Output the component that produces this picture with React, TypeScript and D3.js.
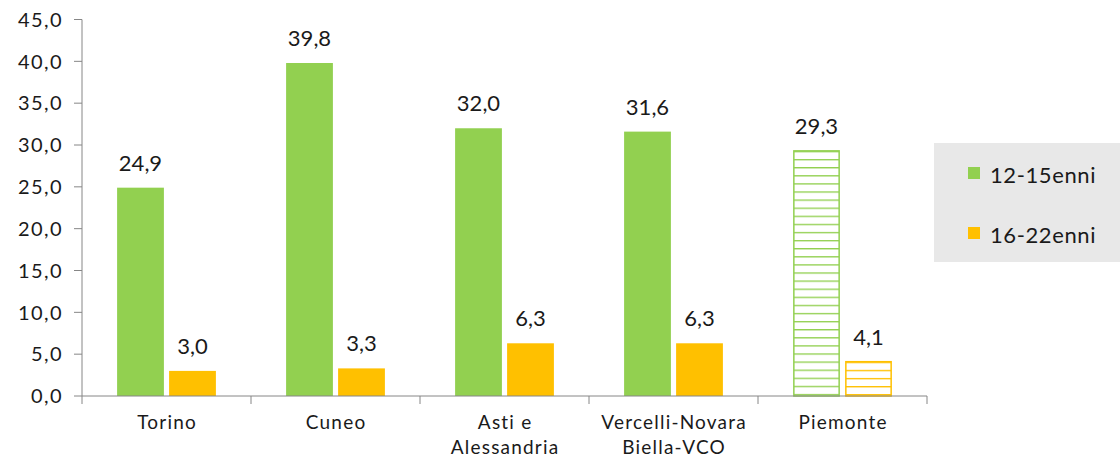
import * as d3 from 'd3';

const categories = ['Torino', 'Cuneo', 'Asti e\nAlessandria', 'Vercelli-Novara\nBiella-VCO', 'Piemonte'];
const series = ['12-15enni', '16-22enni'];
const values12_15 = [24.9, 39.8, 32.0, 31.6, 29.3];
const values16_22 = [3.0, 3.3, 6.3, 6.3, 4.1];
const yTicks = [0, 5, 10, 15, 20, 25, 30, 35, 40, 45];
const colors = ['#92D050', '#FFC000'];
const hatchedCategory = 'Piemonte';

const W = 1120;
const H = 457;
const FONT = 'Lato, "Open Sans", sans-serif';
const TEXT = '#1a1a1a';

const fmt = (v: number) => v.toFixed(1).replace('.', ',');

const App = () => {
  const x0 = d3.scaleBand<string>().domain(categories).range([82, 927]).padding(0);
  const x1 = d3
    .scaleBand<string>()
    .domain(series)
    .range([0, x0.bandwidth()])
    .paddingInner(0.1)
    .paddingOuter(0.675);
  const y = d3.scaleLinear().domain([0, 45]).range([396, 19.5]);

  const rows = categories.map((c, i) => ({ cat: c, vals: [values12_15[i], values16_22[i]] }));

  return (
    <div style={{ position: 'absolute', left: 0, top: 0 }}>
      <svg width={W} height={H} style={{ display: 'block', fontFamily: FONT }}>
        <rect width={W} height={H} fill="#fff" />
        <defs>
          {rows
            .filter(r => r.cat === hatchedCategory)
            .flatMap(r =>
              r.vals.map((v, si) => (
                <pattern
                  key={`p${si}`}
                  id={`hatch${si}`}
                  patternUnits="userSpaceOnUse"
                  x={0}
                  y={y(v)}
                  width={10}
                  height={8.1}
                >
                  <rect width={10} height={8.1} fill="#fff" />
                  <line x1={0} x2={10} y1={0.5} y2={0.5} stroke={colors[si]} strokeWidth={1.7} />
                </pattern>
              ))
            )}
        </defs>

        {/* y axis */}
        <line x1={82} x2={82} y1={y(45)} y2={y(0)} stroke="#868686" strokeWidth={1} />
        {yTicks.map(t => (
          <g key={t}>
            <line x1={74} x2={82} y1={y(t)} y2={y(t)} stroke="#868686" />
            <text
              x={63}
              y={y(t)}
              dy="0.36em"
              textAnchor="end"
              fontSize={20}
              letterSpacing={1.4}
              fill={TEXT}
            >
              {fmt(t)}
            </text>
          </g>
        ))}

        {/* bars */}
        {rows.map(r => (
          <g key={r.cat} transform={`translate(${x0(r.cat)},0)`}>
            {r.vals.map((v, si) => {
              const bx = x1(series[si])!;
              const bw = x1.bandwidth();
              const hatched = r.cat === hatchedCategory;
              return (
                <g key={si}>
                  {hatched ? (
                    <rect
                      x={bx + 0.75}
                      y={y(v)}
                      width={bw - 1.5}
                      height={y(0) - y(v)}
                      fill={`url(#hatch${si})`}
                      stroke={colors[si]}
                      strokeWidth={1.5}
                    />
                  ) : (
                    <rect x={bx} y={y(v)} width={bw} height={y(0) - y(v)} fill={colors[si]} />
                  )}
                  <text
                    x={bx + bw / 2}
                    y={y(v) - 17}
                    textAnchor="middle"
                    fontSize={22}
                    fill={TEXT}
                  >
                    {fmt(v)}
                  </text>
                </g>
              );
            })}
          </g>
        ))}

        {/* x axis */}
        <line x1={82} x2={927} y1={y(0)} y2={y(0)} stroke="#868686" />
        {categories.map(c => (
          <line key={c} x1={x0(c)} x2={x0(c)} y1={y(0)} y2={y(0) + 8} stroke="#868686" />
        ))}
        <line x1={927} x2={927} y1={y(0)} y2={y(0) + 8} stroke="#868686" />
        {categories.map(c => {
          const cx = x0(c)! + x0.bandwidth() / 2 + 0.6;
          return (
            <text key={c} x={cx} y={429} textAnchor="middle" fontSize={19} letterSpacing={1.2} fill={TEXT}>
              {c.split('\n').map((line, i) => (
                <tspan key={i} x={cx} dy={i === 0 ? 0 : 25}>
                  {line}
                </tspan>
              ))}
            </text>
          );
        })}

        {/* legend */}
        <rect x={934} y={143} width={W - 934} height={119} fill="#e8e8e8" />
        {series.map((s, i) => (
          <g key={s} transform={`translate(968,${167 + i * 60})`}>
            <rect width={12} height={12} fill={colors[i]} />
            <text x={22} y={16} fontSize={22} letterSpacing={0.6} fill={TEXT}>
              {s}
            </text>
          </g>
        ))}
      </svg>
    </div>
  );
};

export default App;
